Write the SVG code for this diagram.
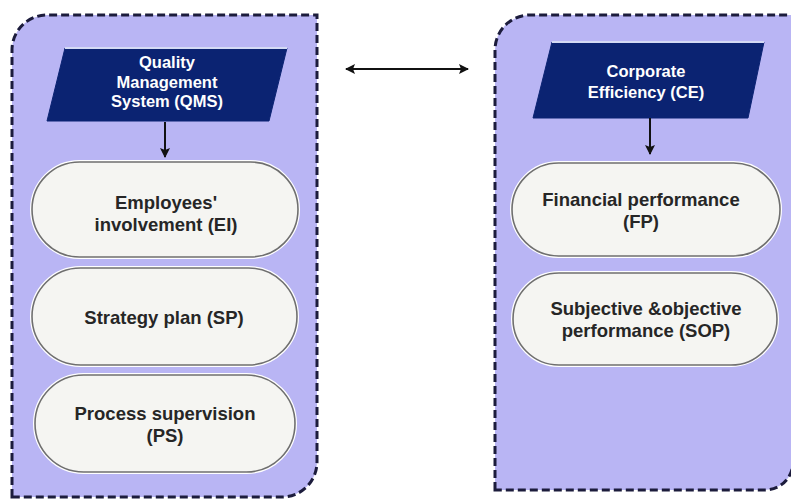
<svg xmlns="http://www.w3.org/2000/svg" width="791" height="499" viewBox="0 0 791 499">
  <defs>
    <style>
      .panel { fill: #b9b5f4; stroke: #1c1c3c; stroke-width: 3; stroke-dasharray: 8 4; }
      .head { fill: #0b2372; stroke: #0b2372; stroke-width: 1; }
      .head-edge { fill: none; stroke: #d4daf4; stroke-width: 2; }
      .pill-halo { fill: none; stroke: #ffffff; stroke-width: 4; }
      .pill { fill: #f5f5f2; stroke: #6f6f6f; stroke-width: 1.6; }
      .head-text { font-family: "Liberation Sans", Arial, sans-serif; font-weight: bold; font-size: 16.5px; fill: #ffffff; text-anchor: middle; }
      .pill-text { font-family: "Liberation Sans", Arial, sans-serif; font-weight: bold; font-size: 18.5px; fill: #262626; text-anchor: middle; }
      .link { stroke: #111111; stroke-width: 2; fill: none; }
    </style>
    <marker id="tip" viewBox="0 0 10 10" refX="9" refY="5" markerWidth="5" markerHeight="5" orient="auto-start-reverse" markerUnits="strokeWidth">
      <path d="M0,0 L10,5 L0,10 L2,5 Z" fill="#111111"/>
    </marker>
  </defs>

  <!-- container panels -->
  <g id="panel-qms">
    <path class="panel" d="M12,497 L12,50 A35,35 0 0 1 47,15 L317,15 L317,462 A35,35 0 0 1 282,497 Z"/>
  </g>
  <g id="panel-ce">
    <path class="panel" d="M495,490 L495,50 A35,35 0 0 1 530,15 L793,15 L793,462 A28,28 0 0 1 765,490 Z"/>
  </g>

  <!-- QMS header -->
  <g id="qms">
    <polygon class="head" points="65,48 287,48 269,121 47,121"/>
    <line class="head-edge" x1="65" y1="48" x2="287" y2="48"/>
    <text class="head-text" x="167" y="68">Quality</text>
    <text class="head-text" x="167" y="87.5">Management</text>
    <text class="head-text" x="167" y="107">System (QMS)</text>
  </g>

  <!-- CE header -->
  <g id="ce">
    <polygon class="head" points="552,42 764,42 748,118 533,118"/>
    <line class="head-edge" x1="552" y1="42" x2="764" y2="42"/>
    <text class="head-text" x="646" y="77">Corporate</text>
    <text class="head-text" x="646" y="98">Efficiency (CE)</text>
  </g>

  <!-- QMS items -->
  <g id="ei">
    <rect class="pill-halo" x="32" y="162" width="266" height="95" rx="47.5"/>
    <rect class="pill" x="32" y="162" width="266" height="95" rx="47.5"/>
    <text class="pill-text" x="166" y="209">Employees'</text>
    <text class="pill-text" x="166" y="231">involvement (EI)</text>
  </g>
  <g id="sp">
    <rect class="pill-halo" x="32" y="268" width="265" height="97" rx="48.5"/>
    <rect class="pill" x="32" y="268" width="265" height="97" rx="48.5"/>
    <text class="pill-text" x="164" y="324">Strategy plan (SP)</text>
  </g>
  <g id="ps">
    <rect class="pill-halo" x="35" y="375" width="260" height="97" rx="48.5"/>
    <rect class="pill" x="35" y="375" width="260" height="97" rx="48.5"/>
    <text class="pill-text" x="165" y="420">Process supervision</text>
    <text class="pill-text" x="165" y="442">(PS)</text>
  </g>

  <!-- CE items -->
  <g id="fp">
    <rect class="pill-halo" x="512" y="163" width="268" height="93" rx="46.5"/>
    <rect class="pill" x="512" y="163" width="268" height="93" rx="46.5"/>
    <text class="pill-text" x="641" y="206">Financial performance</text>
    <text class="pill-text" x="641" y="228">(FP)</text>
  </g>
  <g id="sop">
    <rect class="pill-halo" x="513" y="273" width="264" height="92" rx="46"/>
    <rect class="pill" x="513" y="273" width="264" height="92" rx="46"/>
    <text class="pill-text" x="646" y="315">Subjective &amp;objective</text>
    <text class="pill-text" x="646" y="337">performance (SOP)</text>
  </g>

  <!-- connectors -->
  <g id="connectors">
    <line class="link" x1="165" y1="122" x2="165" y2="157" marker-end="url(#tip)"/>
    <line class="link" x1="650" y1="118" x2="650" y2="154" marker-end="url(#tip)"/>
    <line class="link" x1="346" y1="69" x2="468" y2="69" marker-start="url(#tip)" marker-end="url(#tip)"/>
  </g>
</svg>
